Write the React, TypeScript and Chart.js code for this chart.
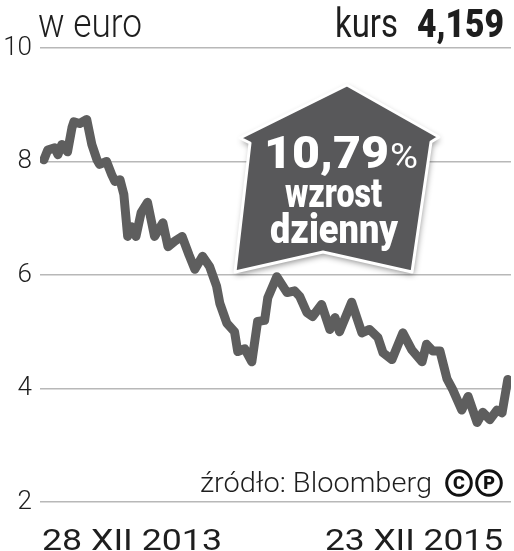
import { useEffect, useRef } from "react";
import { Chart, registerables } from "chart.js";

Chart.register(...registerables);

// days since 28 XII 2013
const dayOffsets = [
  0, 6, 17, 22, 28, 37, 44, 47, 56, 67, 75, 83, 87, 98, 106, 111, 119, 125, 131, 137,
  144, 152, 162, 173, 186, 194, 205, 216, 227, 236, 248, 259, 270, 275, 286, 298, 303,
  314, 325, 334, 345, 350, 364, 380, 392, 400, 411, 420, 434, 447, 455, 462, 481, 497,
  509, 522, 530, 544, 561, 575, 591, 598, 608, 619, 630, 639, 653, 663, 677, 686, 697,
  708, 716, 725,
];
// EUR price
const prices = [
  8.03, 8.2, 8.24, 8.12, 8.3, 8.17, 8.6, 8.7, 8.67, 8.74, 8.3, 8.03, 7.95, 8.0, 7.77,
  7.65, 7.68, 7.42, 6.68, 6.85, 6.68, 7.1, 7.28, 6.68, 6.92, 6.5, 6.6, 6.68, 6.35, 6.1,
  6.33, 6.15, 5.8, 5.5, 5.15, 5.0, 4.65, 4.7, 4.47, 5.18, 5.2, 5.6, 5.97, 5.69, 5.72,
  5.62, 5.34, 5.27, 5.48, 5.04, 5.25, 5.0, 5.52, 4.98, 5.04, 4.9, 4.63, 4.51, 4.98,
  4.68, 4.47, 4.78, 4.66, 4.66, 4.17, 3.98, 3.62, 3.86, 3.4, 3.58, 3.45, 3.62, 3.57,
  4.16,
];
const yMin = 2;
const yMax = 10;
const yStep = 2;

const headerLeft = "w euro";
const kursLabel = "kurs";
const kursValue = "4,159";
const startLabel = "28 XII 2013";
const endLabel = "23 XII 2015";
const sourceText = "źródło: Bloomberg";
const badgeValue = "10,79";
const badgePercent = "%";
const badgeLine2 = "wzrost";
const badgeLine3 = "dzienny";

const TEXT = "#1e1e1e";
const LINE = "#5e5e5e";
const GRID = "#b8b8b8";
const BADGE = "#58585a";

function fitText(
  ctx: CanvasRenderingContext2D,
  text: string,
  x: number,
  y: number,
  font: string,
  width: number,
  color: string
) {
  ctx.save();
  ctx.font = font;
  ctx.fillStyle = color;
  ctx.textBaseline = "alphabetic";
  ctx.textAlign = "left";
  const w = ctx.measureText(text).width;
  ctx.translate(x, y);
  ctx.scale(width / w, 1);
  ctx.fillText(text, 0, 0);
  ctx.restore();
}

const decorPlugin = {
  id: "decor",
  afterDraw(chart: Chart) {
    const ctx = chart.ctx;
    // header
    fitText(ctx, headerLeft, 38, 37, "300 41px Roboto", 104, TEXT);
    fitText(ctx, kursLabel, 335, 37, "400 41px Roboto", 63, TEXT);
    fitText(ctx, kursValue, 417, 37, "900 38px Roboto", 87, TEXT);
    // footer
    fitText(ctx, startLabel, 42, 550, "400 30px Roboto", 180, TEXT);
    fitText(ctx, endLabel, 325, 550, "400 30px Roboto", 178, TEXT);
    fitText(ctx, sourceText, 200, 492, "300 28px Roboto", 232, TEXT);
    // circled C and P
    const circ: [string, number][] = [["C", 459], ["P", 489]];
    for (const [ch, cx] of circ) {
      ctx.save();
      ctx.beginPath();
      ctx.arc(cx, 483, 12.3, 0, Math.PI * 2);
      ctx.lineWidth = 3;
      ctx.strokeStyle = "#111";
      ctx.stroke();
      ctx.font = "900 18px Roboto";
      ctx.fillStyle = "#111";
      ctx.textAlign = "center";
      ctx.textBaseline = "middle";
      ctx.fillText(ch, cx, 484);
      ctx.restore();
    }
    // badge arrow
    const pts: [number, number][] = [
      [347, 85],
      [439, 137],
      [431, 142],
      [412, 272],
      [323, 252],
      [235, 272],
      [250, 143],
      [240, 138],
    ];
    ctx.save();
    ctx.beginPath();
    pts.forEach(([x, y], i) => (i === 0 ? ctx.moveTo(x, y) : ctx.lineTo(x, y)));
    ctx.closePath();
    ctx.shadowColor = "rgba(0,0,0,0.45)";
    ctx.shadowBlur = 6;
    ctx.shadowOffsetX = 1;
    ctx.shadowOffsetY = 3;
    ctx.fillStyle = BADGE;
    ctx.fill();
    ctx.shadowColor = "transparent";
    ctx.lineJoin = "round";
    ctx.lineWidth = 3;
    ctx.strokeStyle = "#ffffff";
    ctx.stroke();
    ctx.restore();
    fitText(ctx, badgeValue, 264, 168, "900 44px Roboto", 125, "#fff");
    fitText(ctx, badgePercent, 390, 168, "400 35px Roboto", 28, "#fff");
    fitText(ctx, badgeLine2, 285, 207, "900 41px Roboto", 97, "#fff");
    fitText(ctx, badgeLine3, 270, 243, "900 41px Roboto", 128, "#fff");
  },
};

export default function App() {
  const ref = useRef<HTMLCanvasElement | null>(null);
  useEffect(() => {
    document.body.style.margin = "0";
    if (!ref.current) return;
    const chart = new Chart(ref.current, {
      type: "line",
      data: {
        datasets: [
          {
            data: dayOffsets.map((d, i) => ({ x: d, y: prices[i] })),
            borderColor: LINE,
            borderWidth: 9,
            borderJoinStyle: "round",
            borderCapStyle: "round",
            pointRadius: 0,
            tension: 0,
            fill: false,
          },
        ],
      },
      options: {
        animation: false,
        responsive: true,
        maintainAspectRatio: false,
        layout: { padding: { top: 48, bottom: 49, left: 0, right: 3 } },
        plugins: { legend: { display: false }, tooltip: { enabled: false } },
        scales: {
          x: { type: "linear", min: -6, max: 730, display: false },
          y: {
            min: yMin,
            max: yMax,
            ticks: {
              stepSize: yStep,
              color: TEXT,
              padding: 8,
              font: { family: "Roboto", size: 26, weight: "300" },
            },
            border: { display: false },
            grid: { color: GRID, lineWidth: 1.5, drawTicks: false },
            afterFit: (s: any) => {
              s.width = 40;
            },
          },
        },
      },
      plugins: [decorPlugin],
    });
    return () => chart.destroy();
  }, []);
  return (
    <div style={{ position: "relative", width: 514, height: 551 }}>
      <canvas ref={ref} />
    </div>
  );
}
